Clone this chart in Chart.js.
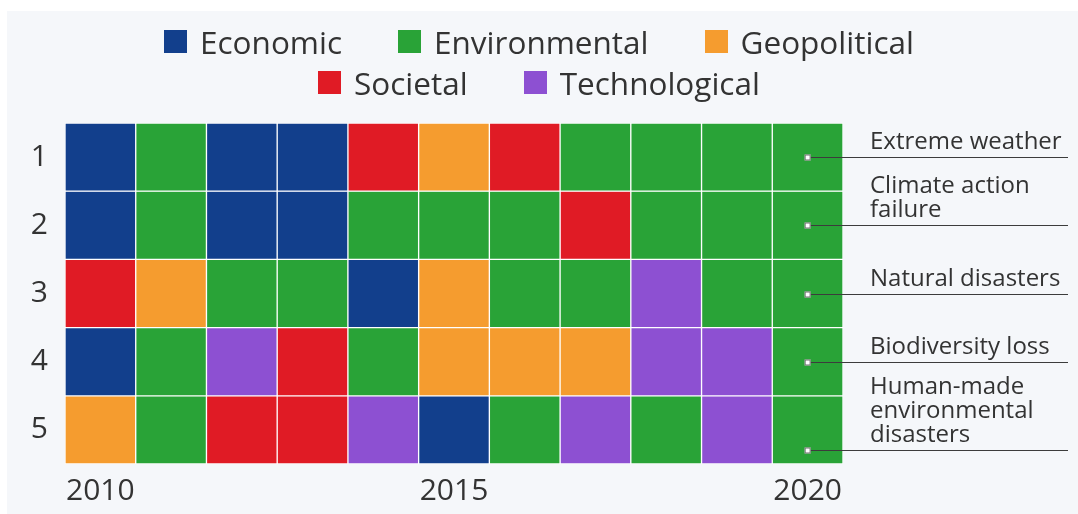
<!DOCTYPE html>
<html>
<head>
<meta charset="utf-8">
<script src="https://cdn.jsdelivr.net/npm/chart.js@4"></script>
<style>
  html, body { margin: 0; padding: 0; background: #fff; }
  #wrap {
    position: relative;
    width: 1078px;
    height: 514px;
    overflow: hidden;
  }
  #panel {
    position: absolute;
    left: 7px; top: 11px; right: 0; bottom: 0;
    background: #f5f7fa;
  }
  #chart { position: absolute; left: 0; top: 0; }
  #legend {
    position: absolute;
    left: 0; right: 0; top: 23px;
    margin: 0 auto;
    width: 820px;
    display: flex;
    flex-wrap: wrap;
    justify-content: center;
    row-gap: 5px;
    column-gap: 56px;
    font-family: "Open Sans", sans-serif;
    font-size: 31.5px;
    color: #333;
  }
  .item { display: flex; align-items: center; height: 36px; }
  .box { width: 23px; height: 23px; margin-right: 13px; }
</style>
</head>
<body>
<div id="wrap">
  <div id="panel"></div>
  <canvas id="chart" width="1078" height="514"></canvas>
  <div id="legend"></div>
</div>
<script>
// Years on the x axis
const years = ['2010', '2011', '2012', '2013', '2014', '2015', '2016', '2017', '2018', '2019', '2020'];

// Risk categories and their colours
const categories = ['Economic', 'Environmental', 'Geopolitical', 'Societal', 'Technological'];
const categoryColors = ['#123f8c', '#29a337', '#f59c2f', '#e01b25', '#8d50d2'];

// Category of the top-5 risk for each year, by rank
const rank1 = ['Economic', 'Environmental', 'Economic', 'Economic', 'Societal', 'Geopolitical', 'Societal', 'Environmental', 'Environmental', 'Environmental', 'Environmental'];
const rank2 = ['Economic', 'Environmental', 'Economic', 'Economic', 'Environmental', 'Environmental', 'Environmental', 'Societal', 'Environmental', 'Environmental', 'Environmental'];
const rank3 = ['Societal', 'Geopolitical', 'Environmental', 'Environmental', 'Economic', 'Geopolitical', 'Environmental', 'Environmental', 'Technological', 'Environmental', 'Environmental'];
const rank4 = ['Economic', 'Environmental', 'Technological', 'Societal', 'Environmental', 'Geopolitical', 'Geopolitical', 'Geopolitical', 'Technological', 'Technological', 'Environmental'];
const rank5 = ['Geopolitical', 'Environmental', 'Societal', 'Societal', 'Technological', 'Economic', 'Environmental', 'Technological', 'Environmental', 'Technological', 'Environmental'];
const ranks = [rank1, rank2, rank3, rank4, rank5];

// Rank labels on the y axis
const rankLabels = ['1', '2', '3', '4', '5'];

// 2020 risks named at the right
const risks2020 = [
    ['Extreme weather'],
    ['Climate action', 'failure'],
    ['Natural disasters'],
    ['Biodiversity loss'],
    ['Human-made', 'environmental', 'disasters']
];

// Cells as floating bars [rank-1, rank]: one dataset per rank and category,
// since a year can hold the same category on several ranks
const cellSets = [];
ranks.forEach((row, r) => {
    categories.forEach((cat, ci) => {
        const data = row.map(c => (c === cat ? [r, r + 1] : null));
        if (data.some(d => d)) {
            cellSets.push({
                label: cat,
                data: data,
                backgroundColor: categoryColors[ci],
                borderColor: '#ffffff',
                borderWidth: 1,
                borderSkipped: false,
                grouped: false,
                categoryPercentage: 1,
                barPercentage: 1
            });
        }
    });
});

// Notes for the 2020 column, with a leader line from a small dot
const shiftPx = [0, 0, 0, 0, 20];
const notesPlugin = {
    id: 'notes',
    afterDatasetsDraw(chart) {
        const ctx = chart.ctx;
        const xs = chart.scales.x;
        const ys = chart.scales.y;
        const x0 = xs.getPixelForValue(years.length - 1);
        ctx.save();
        ctx.font = '24px "Open Sans", sans-serif';
        ctx.textBaseline = 'alphabetic';
        risks2020.forEach((lines, i) => {
            const y = Math.round(ys.getPixelForValue(i + 0.5) + shiftPx[i]) + 0.5;
            ctx.strokeStyle = '#3c3c3c';
            ctx.lineWidth = 1;
            ctx.beginPath();
            ctx.moveTo(x0, y);
            ctx.lineTo(1068, y);
            ctx.stroke();
            // dot
            ctx.fillStyle = '#ffffff';
            ctx.fillRect(x0 - 3, y - 3, 6, 6);
            ctx.strokeStyle = '#6b6b6b';
            ctx.strokeRect(x0 - 2.5, y - 2.5, 5, 5);
            ctx.fillStyle = '#333';
            lines.forEach((t, li) => {
                const base = y - 9 - (lines.length - 1 - li) * 24;
                ctx.fillText(t, 870, base);
            });
        });
        ctx.restore();
    }
};

document.addEventListener('DOMContentLoaded', function() {
    // HTML legend
    const legend = document.getElementById('legend');
    categories.forEach((cat, ci) => {
        legend.insertAdjacentHTML('beforeend',
            `<div class="item"><span class="box" style="background:${categoryColors[ci]}"></span>${cat}</div>`);
    });

    const ctx = document.getElementById('chart').getContext('2d');
    new Chart(ctx, {
        type: 'bar',
        data: {
            labels: years,
            datasets: cellSets
        },
        options: {
            responsive: false,
            animation: false,
            layout: { padding: { left: 0, top: 123, right: 235, bottom: 0 } },
            plugins: {
                legend: { display: false },
                tooltip: { enabled: false }
            },
            scales: {
                x: {
                    grid: { display: false, drawTicks: false },
                    border: { display: false },
                    ticks: {
                        autoSkip: false,
                        maxRotation: 0,
                        padding: 9,
                        color: '#333',
                        font: { family: '"Open Sans", sans-serif', size: 30 },
                        callback: (v, i) => (i % 5 === 0 ? years[i] : '')
                    },
                    afterFit: s => { s.height = 50; }
                },
                y: {
                    min: 0,
                    max: 5,
                    reverse: true,
                    grid: { display: false, drawTicks: false },
                    border: { display: false },
                    afterBuildTicks: s => { s.ticks = rankLabels.map((l, i) => ({ value: i + 0.5 })); },
                    ticks: {
                        padding: 17,
                        color: '#333',
                        font: { family: '"Open Sans", sans-serif', size: 30 },
                        callback: (v) => rankLabels[Math.floor(v)]
                    },
                    afterFit: s => { s.width = 65; }
                }
            }
        },
        plugins: [notesPlugin]
    });
});
</script>
</body>
</html>
